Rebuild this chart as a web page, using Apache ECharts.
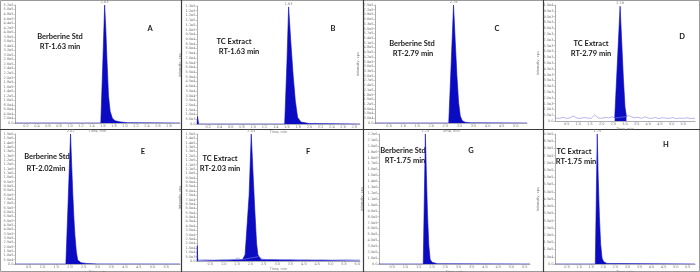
<!DOCTYPE html>
<html>
<head>
<meta charset="utf-8">
<script src="https://cdn.jsdelivr.net/npm/echarts@6/dist/echarts.min.js"></script>
<style>
  html, body { margin: 0; padding: 0; background: #fff; }
  #chart { width: 700px; height: 272px; }
</style>
</head>
<body>
<div id="chart"></div>
<script>
// panel info
const panelLetters = ['A', 'B', 'C', 'D', 'E', 'F', 'G', 'H'];
const sampleNames = ['Berberine Std', 'TC Extract', 'Berberine Std', 'TC Extract',
  'Berberine Std', 'TC Extract', 'Berberine Std', 'TC Extract'];
const rtLabels = ['RT-1.63 min', 'RT-1.63 min', 'RT-2.79 min', 'RT-2.79 min',
  'RT-2.02min', 'RT-2.03 min', 'RT-1.75 min', 'RT-1.75 min'];
const peakRt = ['1.63', '1.63', '2.79', '2.79', '2.02', '2.03', '1.75', '1.75'];

// axes (time in min, intensity in cps)
const xMax = [3.0, 2.9, 5.4, 6.0, 6.0, 6.1, 5.7, 5.8];
const xStep = [0.2, 0.2, 0.5, 0.5, 0.5, 0.5, 0.5, 0.5];
const yMax = [5.2e5, 1.25e5, 7.5e5, 1.0e4, 1.5e6, 1.45e5, 2.2e6, 9.0e5];
const yStep = [2e4, 5e3, 3e4, 500, 5e4, 5e3, 1e5, 5e4];

// chromatograms
const timesA = [0, 1.56, 1.60, 1.63, 1.65, 1.67, 1.70, 1.73, 1.77, 1.82, 1.90, 2.05, 3.0];
const intA = [0, 0, 2.9e5, 5.2e5, 4.2e5, 2.9e5, 1.2e5, 5.2e4, 2.1e4, 1.0e4, 5e3, 1.5e3, 0];

const timesB = [0, 0.01, 0.03, 1.56, 1.60, 1.63, 1.67, 1.71, 1.75, 1.79, 1.85, 2.0, 2.9];
const intB = [0, 8e3, 0, 0, 6.5e4, 1.24e5, 8.6e4, 5.2e4, 2.4e4, 7e3, 2e3, 500, 0];

const timesC = [0, 2.62, 2.70, 2.79, 2.85, 2.91, 2.97, 3.03, 3.10, 3.20, 3.40, 5.4];
const intC = [0, 0, 3.5e5, 7.5e5, 5.2e5, 3.0e5, 1.3e5, 4.5e4, 1.5e4, 5e3, 1e3, 0];

const timesD = [2.56, 2.66, 2.79, 2.86, 2.93, 3.00, 3.06];
const intD = [260, 4.5e3, 9.9e3, 6.8e3, 3.7e3, 1.2e3, 380];
const timesDNoise = [0, 0.2, 0.35, 0.5, 0.65, 0.8, 0.95, 1.1, 1.25, 1.4, 1.55, 1.7, 1.85, 2.0,
  2.15, 2.3, 2.45, 2.56, 3.06, 3.15, 3.25, 3.4, 3.55, 3.7, 3.85, 4.0, 4.15, 4.3, 4.45, 4.6,
  4.75, 4.9, 5.05, 5.2, 5.35, 5.5, 5.65, 5.8, 6.0];
const intDNoise = [260, 230, 320, 220, 280, 420, 240, 230, 300, 250, 230, 520, 260, 230,
  310, 270, 360, 260, 380, 480, 380, 280, 320, 230, 360, 250, 230, 300, 210, 280,
  240, 230, 290, 210, 250, 230, 270, 220, 240];

const timesE = [0, 1.85, 1.93, 2.02, 2.06, 2.10, 2.14, 2.18, 2.23, 2.28, 2.40, 2.60, 3.0, 6.0];
const intE = [0, 0, 7e5, 1.5e6, 1.15e6, 8.2e5, 5.4e5, 3.3e5, 1.4e5, 4.5e4, 1.5e4, 6e3, 1e3, 0];

const timesF = [0, 0.01, 0.03, 1.70, 1.80, 1.87, 1.95, 2.03, 2.09, 2.16, 2.23, 2.28, 2.40, 6.1];
const intF = [0, 1.75e4, 0, 1.5e3, 7e3, 6e3, 7.5e4, 1.45e5, 1.05e5, 6e4, 2e4, 7e3, 1.5e3, 0];
const timesFNoise = [0.03, 0.3, 0.6, 0.9, 1.2, 1.4, 1.54, 1.65, 2.30, 2.45, 2.6, 2.9, 3.2,
  3.5, 3.8, 4.1, 4.4, 4.7, 5.0, 5.3, 5.6, 5.9, 6.1];
const intFNoise = [1200, 1600, 1100, 1500, 1300, 1700, 3500, 1400, 5000, 2200, 1500, 1800, 1300,
  1600, 1200, 1500, 1300, 1700, 1200, 1400, 1600, 1200, 1300];

const timesG = [0, 1.67, 1.71, 1.75, 1.79, 1.83, 1.88, 1.93, 2.0, 2.2, 5.7];
const intG = [0, 0, 1.1e6, 2.2e6, 1.5e6, 8.5e5, 3.2e5, 8e4, 3e4, 5e3, 0];

const timesH = [0, 1.67, 1.71, 1.75, 1.79, 1.84, 1.89, 1.95, 2.02, 2.15, 5.8];
const intH = [0, 0, 4.5e5, 9e5, 6e5, 3.3e5, 1.4e5, 4e4, 1.5e4, 4e3, 0];

const peakTimes = [timesA, timesB, timesC, timesD, timesE, timesF, timesG, timesH];
const peakInts = [intA, intB, intC, intD, intE, intF, intG, intH];
const noiseTimes = { 3: timesDNoise, 5: timesFNoise };
const noiseInts = { 3: intDNoise, 5: intFNoise };

// layout of each panel (plot area) and annotation positions
const grids = [
  { left: 15, top: 5, width: 165, height: 118 },
  { left: 197, top: 6, width: 163, height: 118 },
  { left: 375, top: 5, width: 152, height: 118 },
  { left: 555, top: 5, width: 140, height: 116 },
  { left: 15, top: 134, width: 165, height: 130 },
  { left: 197, top: 134, width: 163, height: 127 },
  { left: 379, top: 134, width: 151, height: 130 },
  { left: 555, top: 134, width: 140, height: 130 }
];
const namePos = [[60, 37], [234, 42], [412, 44], [591, 44], [47, 157], [220, 159], [403, 151], [574, 152]];
const rtPos = [[60, 47], [239, 52], [413, 54], [591, 54], [46, 169], [220, 169], [405, 161], [576, 162]];
const letterPos = [[150, 29], [333, 29], [497, 29], [682, 37], [143, 152], [308, 152], [471, 151], [666, 145]];

const peakBlue = '#0b0bc2';
const noiseBlue = '#8484dc';
const tinyText = { fontSize: 3.5, color: '#777', fontFamily: 'DejaVu Sans' };

function expLabel(v) {
  if (v === 0) return '0.0';
  return v.toExponential(1).replace('e+', 'e');
}

const myChart = echarts.init(document.getElementById('chart'), null, { renderer: 'canvas' });

const gridList = [];
const xAxes = [];
const yAxes = [];
const seriesList = [];
const graphics = [];

for (let i = 0; i < 8; i++) {
  gridList.push(Object.assign({ outerBoundsMode: 'none', containLabel: false }, grids[i]));
  xAxes.push({
    type: 'value', gridIndex: i, min: 0, max: xMax[i], interval: xStep[i],
    name: 'Time, min', nameLocation: 'middle', nameGap: 5, nameTextStyle: tinyText,
    axisLine: { lineStyle: { color: '#8a8a9a', width: 0.7 } },
    axisTick: { length: 1.5, lineStyle: { color: '#999', width: 0.5 } },
    axisLabel: Object.assign({ margin: 1.5, showMinLabel: false, showMaxLabel: false,
      formatter: v => v.toFixed(1) }, tinyText),
    splitLine: { show: false }
  });
  yAxes.push({
    type: 'value', gridIndex: i, min: 0, max: yMax[i], interval: yStep[i],
    name: 'Intensity, cps', nameLocation: 'middle', nameGap: 11, nameTextStyle: tinyText,
    axisLine: { show: true, lineStyle: { color: '#8a8a8a', width: 0.7 } },
    axisTick: { show: true, length: 1.5, lineStyle: { color: '#999', width: 0.5 } },
    axisLabel: Object.assign({ margin: 1.5, formatter: expLabel }, tinyText),
    splitLine: { show: false }
  });

  if (noiseTimes[i]) {
    seriesList.push({
      type: 'line', xAxisIndex: i, yAxisIndex: i, symbol: 'none', silent: true,
      lineStyle: { color: noiseBlue, width: 0.6 },
      data: noiseTimes[i].map((t, k) => [t, noiseInts[i][k]])
    });
  }
  seriesList.push({
    type: 'line', xAxisIndex: i, yAxisIndex: i, symbol: 'none', silent: true,
    lineStyle: { color: peakBlue, width: 0.6 },
    areaStyle: { color: peakBlue, opacity: 1 },
    data: peakTimes[i].map((t, k) => [t, peakInts[i][k]]),
    markPoint: {
      symbol: 'circle', symbolSize: 1, itemStyle: { color: 'rgba(0,0,0,0)' },
      data: [{ type: 'max', valueDim: 'y' }],
      label: Object.assign({ show: true, position: 'top', distance: 0.5,
        formatter: () => peakRt[i] }, tinyText)
    }
  });

  const txt = { fontSize: 7.5, fontWeight: 'bold', fontFamily: 'Lato', fill: '#1a1a1a',
    align: 'center', verticalAlign: 'middle' };
  graphics.push({ type: 'text', x: namePos[i][0], y: namePos[i][1],
    style: Object.assign({ text: sampleNames[i] }, txt) });
  graphics.push({ type: 'text', x: rtPos[i][0], y: rtPos[i][1],
    style: Object.assign({ text: rtLabels[i] }, txt) });
  graphics.push({ type: 'text', x: letterPos[i][0], y: letterPos[i][1],
    style: Object.assign({ text: panelLetters[i] }, txt) });
}

// panel frame lines
const frame = { stroke: '#3a3a3a', lineWidth: 1.2 };
graphics.push({ type: 'rect', shape: { x: 0.5, y: 0.5, width: 699, height: 271 },
  style: { fill: 'none', stroke: '#9a9a9a', lineWidth: 1 } });
graphics.push({ type: 'line', shape: { x1: 0, y1: 129.5, x2: 700, y2: 129.5 }, style: frame });
[181.5, 363.5, 543.5].forEach(x => {
  graphics.push({ type: 'line', shape: { x1: x, y1: 0, x2: x, y2: 272 }, style: frame });
});

myChart.setOption({
  animation: false,
  backgroundColor: '#fff',
  grid: gridList,
  xAxis: xAxes,
  yAxis: yAxes,
  series: seriesList,
  graphic: graphics
});
</script>
</body>
</html>
